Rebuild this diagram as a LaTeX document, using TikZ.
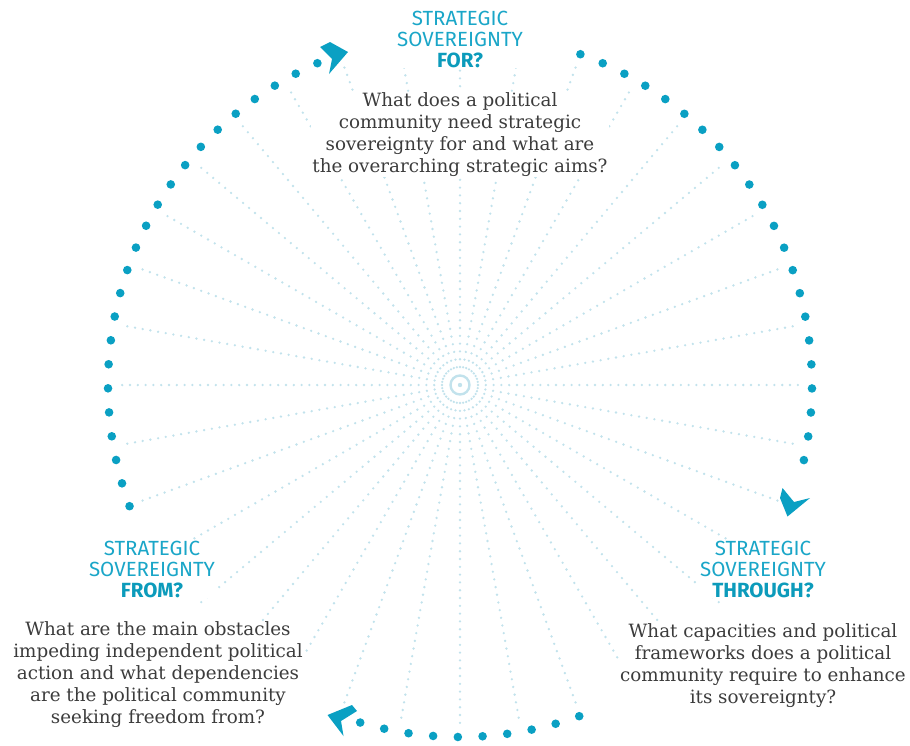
\documentclass[tikz,border=0pt]{standalone}
\usepackage{fontspec}
\setmainfont{DejaVu Serif}
\newfontfamily\labfont{Fira Sans}
\definecolor{arcblue}{HTML}{0AA0C3}
\definecolor{raylight}{HTML}{C2E2EC}
\definecolor{labblue}{HTML}{1AA6C8}
\definecolor{labbold}{HTML}{0C9BBB}
\definecolor{txtgray}{HTML}{3C3C3C}
\tikzset{
  raydots/.style={draw=raylight, line width=2.6pt, line cap=round, dash pattern=on 0pt off 7.8pt},
  arcdot/.style={fill=arcblue},
  chevron/.style={fill=arcblue},
  qtext/.style={align=center, text=txtgray, fill=white, inner sep=1pt, font=\fontsize{18.3}{22}\selectfont},
  labtext/.style={align=center, text=labblue, fill=white, inner sep=1pt, font=\labfont\fontsize{20.5}{21}\selectfont}
}
\begin{document}
\begin{tikzpicture}[x=1pt,y=-1pt]
\useasboundingbox (0,0) rectangle (910,745);
\coordinate (c) at (460,385);
% radial dotted rays
\foreach \a in {0,10,...,350}
  \draw[raydots] ({460+18*cos(\a)},{385+18*sin(\a)}) -- ({460+340*cos(\a)},{385+340*sin(\a)});
% centre
\draw[raylight, line width=2.4pt] (c) circle (9.5);
\fill[raylight] (c) circle (2.2);
% arcs of dots
\foreach \i in {0,...,22}
  \fill[arcdot] ({460+352*cos(113.9+3.92*\i)},{385-352*sin(113.9+3.92*\i)}) circle (4.3);
\foreach \i in {0,...,21}
  \fill[arcdot] ({460+352*cos(70-3.92*\i)},{385-352*sin(70-3.92*\i)}) circle (4.3);
\foreach \i in {0,...,9}
  \fill[arcdot] ({460+352*cos(-70.2-4.03*\i)},{385-352*sin(-70.2-4.03*\i)}) circle (4.3);
% chevrons
\fill[chevron] (320,47) -- (330,42) -- (348,52) -- (329,74) -- (332,59) -- cycle;
\fill[chevron] (782.5,488) -- (780,498) -- (787.5,516.5) -- (810,498) -- (794,502) -- cycle;
\fill[chevron] (352,705) -- (327.5,715) -- (343.5,736) -- (341,721) -- (357,711) -- cycle;
% labels
\node[labtext] (lfor) at (460,39) {STRATEGIC\\SOVEREIGNTY\\{\color{labbold}\bfseries FOR?}};
\node[labtext] (lfrom) at (152,569) {STRATEGIC\\SOVEREIGNTY\\{\color{labbold}\bfseries FROM?}};
\node[labtext] (lthrough) at (763,569) {STRATEGIC\\SOVEREIGNTY\\{\color{labbold}\bfseries THROUGH?}};
% questions
\node[qtext] (qfor) at (460,134.5) {What does a political\\community need strategic\\sovereignty for and what are\\the overarching strategic aims?};
\node[qtext] (qfrom) at (158,675) {What are the main obstacles\\impeding independent political\\action and what dependencies\\are the political community\\seeking freedom from?};
\node[qtext] (qthrough) at (763,666) {What capacities and political\\frameworks does a political\\community require to enhance\\its sovereignty?};
\end{tikzpicture}
\end{document}
